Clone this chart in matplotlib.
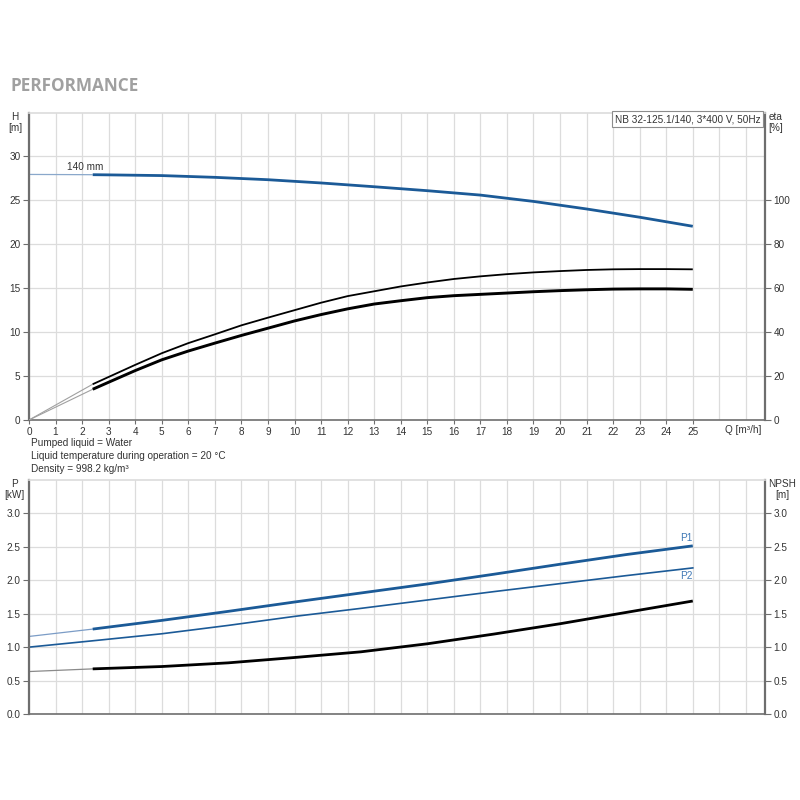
import matplotlib
matplotlib.use("Agg")
import matplotlib.pyplot as plt
from matplotlib.ticker import FormatStrFormatter

plt.rcParams['font.family'] = ['Liberation Sans', 'DejaVu Sans']

# --- data ---
# head curve (Q in m3/h, H in m)
q_h = [0, 2.4, 3, 5, 7, 9, 11, 13, 15, 17, 19, 21, 23, 25]
h = [27.95, 27.92, 27.9, 27.82, 27.62, 27.35, 26.98, 26.55, 26.1, 25.6, 24.88, 24.02, 23.08, 22.05]

# efficiency curves (%)
q_eta = [0, 2.4, 3, 4, 5, 6, 7, 8, 9, 10, 11, 12, 13, 14, 15, 16, 17, 18, 19, 20,
         21, 22, 23, 24, 25]
eta_upper = [0, 16.3, 19.6, 25.1, 30.4, 35.0, 39.0, 43.1, 46.6, 50.0, 53.4, 56.4,
             58.6, 60.8, 62.6, 64.2, 65.4, 66.4, 67.2, 67.8, 68.3, 68.6, 68.7, 68.7, 68.6]
eta_lower = [0, 14.0, 17.2, 22.5, 27.4, 31.4, 35.0, 38.5, 41.8, 45.1, 48.0, 50.6,
             52.8, 54.3, 55.7, 56.6, 57.2, 57.8, 58.4, 58.9, 59.3, 59.6, 59.7, 59.7, 59.5]

# power (kW) and NPSH (m)
q_p = [0, 2.4, 5, 7.5, 10, 12.5, 15, 17.5, 20, 22.5, 25]
p1 = [1.16, 1.27, 1.40, 1.535, 1.675, 1.81, 1.945, 2.09, 2.24, 2.385, 2.515]
p2 = [1.0, 1.095, 1.2, 1.325, 1.46, 1.58, 1.705, 1.83, 1.95, 2.07, 2.185]
npsh = [0.635, 0.675, 0.71, 0.765, 0.845, 0.93, 1.05, 1.195, 1.35, 1.52, 1.69]

h_ticks = [0, 5, 10, 15, 20, 25, 30]
eta_ticks = [0, 20, 40, 60, 80, 100]
p_ticks = [0.0, 0.5, 1.0, 1.5, 2.0, 2.5, 3.0]
q_ticks = list(range(0, 26))
q_grid = list(range(0, 28))

BLUE = '#1b5a97'
GRID = '#dcdcdc'
SPINE = '#6e6e6e'
TXT = '#333333'
FS = 7.2

fig = plt.figure(figsize=(8, 8), dpi=100)
fig.patch.set_facecolor('white')

fig.text(10 / 800, 1 - 86 / 800, 'PERFORMANCE', fontsize=12.3, fontweight='bold',
         color='#a0a0a0', family=['Open Sans', 'DejaVu Sans'], va='center')


def style_axes(ax, yticks, ylim):
    ax.set_xlim(0, 27.72)
    ax.set_ylim(*ylim)
    ax.set_xticks(q_grid, minor=True)
    ax.set_yticks(yticks)
    ax.grid(True, which='both', axis='x', color=GRID, lw=0.9)
    ax.grid(True, which='major', axis='y', color=GRID, lw=0.9)
    ax.set_axisbelow(True)
    for s in ['left', 'right']:
        ax.spines[s].set_color(SPINE)
        ax.spines[s].set_linewidth(1.6)
    ax.spines['top'].set_color(GRID)
    ax.spines['top'].set_linewidth(1.2)
    ax.spines['bottom'].set_color(SPINE)
    ax.spines['bottom'].set_linewidth(1.2)
    ax.tick_params(axis='y', labelsize=FS, colors=TXT, length=4, width=0.8,
                   pad=2, color=SPINE)
    ax.tick_params(axis='x', which='minor', length=0)


def style_twin(ax):
    ax.tick_params(axis='y', labelsize=FS, colors=TXT, length=4, width=0.8,
                   pad=2, color=SPINE)
    for s in ax.spines.values():
        s.set_visible(False)


# ---------------- top chart: H and eta ----------------
ax1 = fig.add_axes([29 / 800, 1 - 420 / 800, 736 / 800, 307.5 / 800])
style_axes(ax1, h_ticks, (0, 35))
ax1.set_xticks(q_ticks)
ax1.tick_params(axis='x', which='major', labelsize=FS, colors=TXT, length=3,
                width=0.8, pad=2, color=SPINE)

ax1.plot(q_h[:2], h[:2], color='#8aa8cb', lw=0.9, solid_capstyle='butt')
ax1.plot(q_h[1:], h[1:], color=BLUE, lw=2.0, solid_capstyle='butt')
ax1.text(1.45, 28.25, '140 mm', fontsize=FS, color=TXT, va='bottom')

ax1e = ax1.twinx()
ax1e.set_ylim(0, 140)
ax1e.set_yticks(eta_ticks)
style_twin(ax1e)
ax1e.plot(q_eta[:2], eta_upper[:2], color='#a0a0a0', lw=0.8)
ax1e.plot(q_eta[:2], eta_lower[:2], color='#a0a0a0', lw=0.8)
ax1e.plot(q_eta[1:], eta_upper[1:], color='black', lw=1.3, solid_capstyle='butt')
ax1e.plot(q_eta[1:], eta_lower[1:], color='black', lw=2.1, solid_capstyle='butt')

fig.text(15 / 800, 1 - 112 / 800, 'H\n[m]', ha='center', va='top',
         fontsize=FS, color=TXT, linespacing=1.15)
fig.text(776 / 800, 1 - 112 / 800, 'eta\n[%]', ha='center', va='top',
         fontsize=FS, color=TXT, linespacing=1.15)
ax1.text(26.9, -0.55, 'Q [m³/h]', fontsize=FS, color=TXT, ha='center', va='top')
ax1.text(0.994, 0.995, 'NB 32-125.1/140, 3*400 V, 50Hz', transform=ax1.transAxes,
         ha='right', va='top', fontsize=FS, color=TXT, zorder=5,
         bbox=dict(boxstyle='square,pad=0.28', fc='white', ec='#8c8c8c', lw=0.8))

fig.text(31 / 800, 1 - 443 / 800, 'Pumped liquid = Water', fontsize=FS, color=TXT, va='center')
fig.text(31 / 800, 1 - 456 / 800, 'Liquid temperature during operation = 20 °C',
         fontsize=FS, color=TXT, va='center')
fig.text(31 / 800, 1 - 469 / 800, 'Density = 998.2 kg/m³', fontsize=FS, color=TXT, va='center')

# ---------------- bottom chart: P and NPSH ----------------
ax2 = fig.add_axes([29 / 800, 1 - 714 / 800, 736 / 800, 234 / 800])
style_axes(ax2, p_ticks, (0, 3.5))
ax2.set_xticks([])
ax2.yaxis.set_major_formatter(FormatStrFormatter('%.1f'))

ax2.plot(q_p[:2], p1[:2], color='#7b9cc6', lw=0.9)
ax2.plot(q_p[1:], p1[1:], color=BLUE, lw=2.0, solid_capstyle='butt')
ax2.plot(q_p, p2, color=BLUE, lw=1.2)
ax2.plot(q_p[:2], npsh[:2], color='#8a8a8a', lw=0.9)
ax2.plot(q_p[1:], npsh[1:], color='black', lw=2.0, solid_capstyle='butt')

ax2.text(25, p1[-1] + 0.04, 'P1', fontsize=FS, color='#3f78b5', ha='right', va='bottom')
ax2.text(25, p2[-1] - 0.05, 'P2', fontsize=FS, color='#3f78b5', ha='right', va='top')

ax2n = ax2.twinx()
ax2n.set_ylim(0, 3.5)
ax2n.set_yticks(p_ticks)
ax2n.yaxis.set_major_formatter(FormatStrFormatter('%.1f'))
style_twin(ax2n)

fig.text(14 / 800, 1 - 479 / 800, 'P\n[kW]', ha='center', va='top',
         fontsize=FS, color=TXT, linespacing=1.15)
fig.text(782 / 800, 1 - 479 / 800, 'NPSH\n[m]', ha='center', va='top',
         fontsize=FS, color=TXT, linespacing=1.15)

fig.savefig('out.png', dpi=100, facecolor='white')
